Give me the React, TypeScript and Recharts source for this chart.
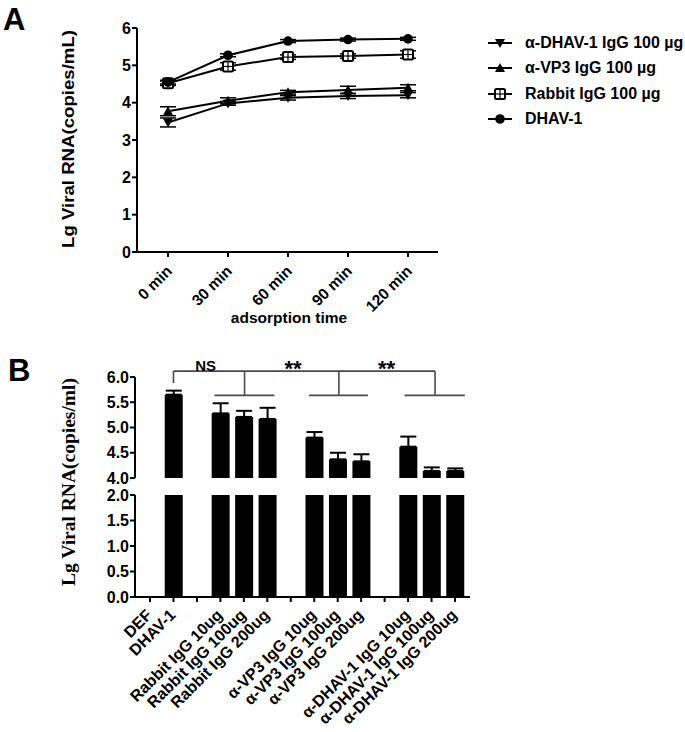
import React from 'react';
import {
  LineChart, Line, XAxis, YAxis, ErrorBar, Legend,
  BarChart, Bar, ReferenceLine, ReferenceDot,
} from 'recharts';

const SANS = '"Liberation Sans", Arial, sans-serif';
const SERIF = '"Liberation Serif", "Times New Roman", serif';

// ---------- Panel A data ----------
const times = [0, 30, 60, 90, 120];
const timeLabels = ['0 min', '30 min', '60 min', '90 min', '120 min'];
const antiDhavValues = [3.47, 3.98, 4.13, 4.18, 4.2];
const antiDhavErr = [0.12, 0.05, 0.06, 0.07, 0.07];
const vp3Values = [3.77, 4.05, 4.28, 4.34, 4.4];
const vp3Err = [0.12, 0.08, 0.05, 0.1, 0.08];
const rabbitValues = [4.52, 4.97, 5.22, 5.25, 5.29];
const rabbitErr = [0.06, 0.1, 0.06, 0.06, 0.1];
const dhavValues = [4.55, 5.27, 5.65, 5.69, 5.71];
const dhavErr = [0.05, 0.04, 0.04, 0.04, 0.04];
const seriesNames = ['α-DHAV-1 IgG 100 µg', 'α-VP3 IgG 100 µg', 'Rabbit IgG 100 µg', 'DHAV-1'];
const yTicksA = [0, 1, 2, 3, 4, 5, 6];

// ---------- Panel B data ----------
const bCategories = [
  'DEF', 'DHAV-1', '',
  'Rabbit IgG 10ug', 'Rabbit IgG 100ug', 'Rabbit IgG 200ug', '',
  'α-VP3 IgG 10ug', 'α-VP3 IgG 100ug', 'α-VP3 IgG 200ug', '',
  'α-DHAV-1 IgG 10ug', 'α-DHAV-1 IgG 100ug', 'α-DHAV-1 IgG 200ug',
];
const bMeans = [0, 5.65, null, 5.28, 5.21, 5.17, null, 4.8, 4.37, 4.33, null, 4.62, 4.14, 4.14];
const bSD = [0, 0.08, null, 0.2, 0.12, 0.22, null, 0.11, 0.13, 0.14, null, 0.2, 0.07, 0.05];
const yTicksBTop = [4, 4.5, 5, 5.5, 6];
const yTicksBBottom = [0, 0.5, 1, 1.5, 2];

const dataA = times.map((t, i) => ({
  t,
  anti: antiDhavValues[i], antiE: antiDhavErr[i],
  vp3: vp3Values[i], vp3E: vp3Err[i],
  rabbit: rabbitValues[i], rabbitE: rabbitErr[i],
  dhav: dhavValues[i], dhavE: dhavErr[i],
}));

const dataB = bCategories.map((c, i) => ({
  x: i,
  label: c,
  v: bMeans[i],
  err: bMeans[i] != null && bSD[i] != null ? [0, bSD[i]] : null,
}));

const xIdx = bCategories.map((_, i) => i);

type Kind = 'down' | 'up' | 'square' | 'circle';

const Marker = ({ kind, cx, cy }: { kind: Kind; cx: number; cy: number }) => {
  if (cx == null || cy == null || isNaN(cx) || isNaN(cy)) return null;
  if (kind === 'down')
    return <path d={`M${cx - 5},${cy - 4} L${cx + 5},${cy - 4} L${cx},${cy + 5} Z`} fill="#000" />;
  if (kind === 'up')
    return <path d={`M${cx - 5},${cy + 4} L${cx + 5},${cy + 4} L${cx},${cy - 5} Z`} fill="#000" />;
  if (kind === 'square')
    return (
      <g>
        <rect x={cx - 5} y={cy - 5} width={10} height={10} rx={1.5} fill="#fff" stroke="#000" strokeWidth={2} />
        <line x1={cx} y1={cy - 4} x2={cx} y2={cy + 4} stroke="#000" strokeWidth={1.2} />
        <line x1={cx - 4} y1={cy} x2={cx + 4} y2={cy} stroke="#000" strokeWidth={1.2} />
      </g>
    );
  return <circle cx={cx} cy={cy} r={4.8} fill="#000" />;
};

const makeDot = (kind: Kind) => (p: any) => (
  <g key={`${kind}-${p.index}`}>
    <Marker kind={kind} cx={p.cx} cy={p.cy} />
  </g>
);

const kindByKey: Record<string, Kind> = { anti: 'down', vp3: 'up', rabbit: 'square', dhav: 'circle' };

const renderLegend = (props: any) => {
  const items = [...(props.payload || [])].sort(
    (a: any, b: any) => seriesNames.indexOf(a.value) - seriesNames.indexOf(b.value)
  );
  return (
    <div style={{ fontFamily: SANS, fontWeight: 'bold', fontSize: 16, color: '#000' }}>
      {items.map((it: any) => (
        <div key={it.value} style={{ display: 'flex', alignItems: 'center', height: 25.5 }}>
          <svg width={40} height={14} style={{ flex: 'none' }}>
            <line x1={3} y1={7} x2={27} y2={7} stroke="#000" strokeWidth={2} />
            <Marker kind={kindByKey[it.dataKey]} cx={15} cy={7} />
          </svg>
          <span style={{ whiteSpace: 'nowrap' }}>{it.value}</span>
        </div>
      ))}
    </div>
  );
};

const TimeTick = (props: any) => {
  const { x, y, payload } = props;
  const px = x + 5;
  const py = y + 13;
  const label = timeLabels[times.indexOf(payload.value)];
  return (
    <text x={px} y={py} transform={`rotate(-45 ${px} ${py})`} textAnchor="end"
      fontSize={15.5} fontWeight="bold" fontFamily={SANS} fill="#000">{label}</text>
  );
};

const CatTick = (props: any) => {
  const { x, y, payload } = props;
  const px = x + 3;
  const py = y + 12;
  const label = bCategories[payload.value];
  return (
    <text x={px} y={py} transform={`rotate(-45 ${px} ${py})`} textAnchor="end"
      fontSize={16} fontWeight="bold" fontFamily={SANS} fill="#000">{label}</text>
  );
};

const yTickStyle = { fill: '#000', fontSize: 16, fontWeight: 'bold', fontFamily: SANS };
const axisLine = { stroke: '#000', strokeWidth: 2 };

const PanelA = () => (
  <LineChart width={685} height={340} data={dataA}
    margin={{ top: 28, right: 247, bottom: 28, left: 77 }}>
    <XAxis dataKey="t" type="number" domain={[-15.5, 135]} ticks={times} height={60}
      axisLine={axisLine} tickLine={axisLine} tickSize={5} tick={<TimeTick />} interval={0} />
    <YAxis type="number" domain={[0, 6]} ticks={yTicksA} width={60}
      axisLine={axisLine} tickLine={axisLine} tickSize={5} tickMargin={1} tick={yTickStyle} />
    <Legend layout="vertical" align="center" verticalAlign="middle" content={renderLegend}
      wrapperStyle={{ position: 'absolute', left: 485, top: 30, width: 200 }} />
    <Line dataKey="anti" name={seriesNames[0]} stroke="#000" strokeWidth={2}
      dot={makeDot('down')} activeDot={false} isAnimationActive={false}>
      <ErrorBar dataKey="antiE" width={8} stroke="#000" strokeWidth={1.5} direction="y" />
    </Line>
    <Line dataKey="vp3" name={seriesNames[1]} stroke="#000" strokeWidth={2}
      dot={makeDot('up')} activeDot={false} isAnimationActive={false}>
      <ErrorBar dataKey="vp3E" width={8} stroke="#000" strokeWidth={1.5} direction="y" />
    </Line>
    <Line dataKey="rabbit" name={seriesNames[2]} stroke="#000" strokeWidth={2}
      dot={makeDot('square')} activeDot={false} isAnimationActive={false}>
      <ErrorBar dataKey="rabbitE" width={8} stroke="#000" strokeWidth={1.5} direction="y" />
    </Line>
    <Line dataKey="dhav" name={seriesNames[3]} stroke="#000" strokeWidth={2}
      dot={makeDot('circle')} activeDot={false} isAnimationActive={false}>
      <ErrorBar dataKey="dhavE" width={8} stroke="#000" strokeWidth={1.5} direction="y" />
    </Line>
  </LineChart>
);

const bracketStroke = { stroke: '#4a4a4a', strokeWidth: 1.6 };
const BR_TOP = 6.116;
const BR_GROUP = 5.637;

const PanelBTop = () => (
  <BarChart width={685} height={160} data={dataB}
    margin={{ top: 37, right: 215, bottom: 22, left: 75 }}>
    <XAxis dataKey="x" type="number" domain={[-0.64, 13.64]} ticks={xIdx} hide />
    <YAxis type="number" domain={[4, 6]} ticks={yTicksBTop} width={60} allowDataOverflow
      axisLine={axisLine} tickLine={axisLine} tickSize={5} tickMargin={1}
      tick={yTickStyle} tickFormatter={(v: number) => v.toFixed(1)} />
    <Bar dataKey="v" fill="#000" barSize={18} isAnimationActive={false}>
      <ErrorBar dataKey="err" width={8} stroke="#000" strokeWidth={2} direction="y" />
    </Bar>
    <ReferenceLine segment={[{ x: 1, y: BR_TOP }, { x: 12.15, y: BR_TOP }]} ifOverflow="visible" {...bracketStroke} />
    <ReferenceLine segment={[{ x: 1, y: BR_TOP }, { x: 1, y: 5.88 }]} ifOverflow="visible" {...bracketStroke} />
    <ReferenceLine segment={[{ x: 4.03, y: BR_TOP }, { x: 4.03, y: BR_GROUP }]} ifOverflow="visible" {...bracketStroke} />
    <ReferenceLine segment={[{ x: 8.05, y: BR_TOP }, { x: 8.05, y: BR_GROUP }]} ifOverflow="visible" {...bracketStroke} />
    <ReferenceLine segment={[{ x: 12.15, y: BR_TOP }, { x: 12.15, y: BR_GROUP }]} ifOverflow="visible" {...bracketStroke} />
    <ReferenceLine segment={[{ x: 2.75, y: BR_GROUP }, { x: 5.3, y: BR_GROUP }]} ifOverflow="visible" {...bracketStroke} />
    <ReferenceLine segment={[{ x: 6.78, y: BR_GROUP }, { x: 9.29, y: BR_GROUP }]} ifOverflow="visible" {...bracketStroke} />
    <ReferenceLine segment={[{ x: 10.85, y: BR_GROUP }, { x: 13.42, y: BR_GROUP }]} ifOverflow="visible" {...bracketStroke} />
    <ReferenceDot x={2.37} y={6.23} r={0} fill="none" stroke="none" ifOverflow="visible"
      label={{ value: 'NS', position: 'center', fill: '#000', fontSize: 15, fontWeight: 'bold', fontFamily: SANS }} />
    <ReferenceDot x={6.1} y={6.17} r={0} fill="none" stroke="none" ifOverflow="visible"
      label={{ value: '**', position: 'center', fill: '#000', fontSize: 22, fontWeight: 'bold', fontFamily: SANS }} />
    <ReferenceDot x={10.08} y={6.17} r={0} fill="none" stroke="none" ifOverflow="visible"
      label={{ value: '**', position: 'center', fill: '#000', fontSize: 22, fontWeight: 'bold', fontFamily: SANS }} />
  </BarChart>
);

const PanelBBottom = () => (
  <BarChart width={685} height={252} data={dataB}
    margin={{ top: 15, right: 215, bottom: 5, left: 75 }}>
    <XAxis dataKey="x" type="number" domain={[-0.64, 13.64]} ticks={xIdx} height={130} interval={0}
      axisLine={axisLine} tickLine={axisLine} tickSize={5} tick={<CatTick />} />
    <YAxis type="number" domain={[0, 2]} ticks={yTicksBBottom} width={60} allowDataOverflow
      axisLine={axisLine} tickLine={axisLine} tickSize={5} tickMargin={1}
      tick={yTickStyle} tickFormatter={(v: number) => v.toFixed(1)} />
    <Bar dataKey="v" fill="#000" barSize={18} isAnimationActive={false} />
  </BarChart>
);

export default function App() {
  return (
    <div style={{ position: 'absolute', left: 0, top: 0, width: 685, height: 732, background: '#fff', fontFamily: SANS }}>
      <div style={{ position: 'absolute', left: 0, top: 0 }}><PanelA /></div>
      <div style={{ position: 'absolute', left: 0, top: 340 }}><PanelBTop /></div>
      <div style={{ position: 'absolute', left: 0, top: 480 }}><PanelBBottom /></div>
      <svg width={685} height={732} style={{ position: 'absolute', left: 0, top: 0, pointerEvents: 'none' }}>
        <text x={3} y={30} fontSize={31} fontWeight="bold" fontFamily={SANS} fill="#000">A</text>
        <text x={8} y={381} fontSize={31} fontWeight="bold" fontFamily={SANS} fill="#000">B</text>
        <text x={74} y={139} transform="rotate(-90 74 139)" textAnchor="middle" fontSize={17}
          fontWeight="bold" fontFamily={SANS} fill="#000" textLength={218} lengthAdjust="spacingAndGlyphs">
          Lg Viral RNA(copies/mL)
        </text>
        <text x={289} y={323} textAnchor="middle" fontSize={15.5} fontWeight="bold" fontFamily={SANS} fill="#000">
          adsorption time
        </text>
        <text x={75} y={482} transform="rotate(-90 75 482)" textAnchor="middle" fontSize={19.5}
          fontWeight="bold" fontFamily={SERIF} fill="#000">
          Lg Viral RNA(copies/ml)
        </text>
      </svg>
    </div>
  );
}
